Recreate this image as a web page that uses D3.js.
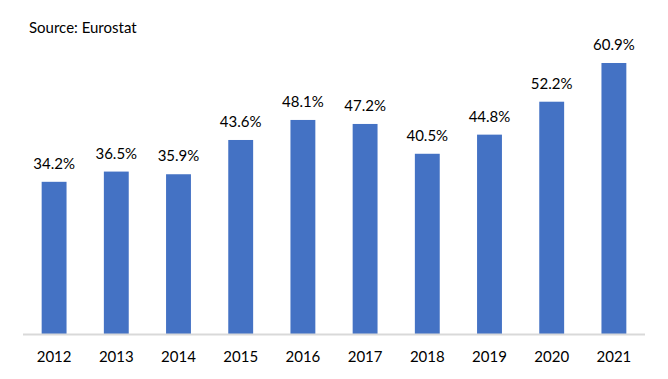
<!DOCTYPE html>
<html>
<head>
<meta charset="utf-8">
<script src="https://cdn.jsdelivr.net/npm/d3@7"></script>
<style>
  html, body { margin: 0; padding: 0; background: #fff; }
  svg { display: block; font-family: Lato, "Open Sans", sans-serif; }
</style>
</head>
<body>
<svg id="chart" width="668" height="379"></svg>
<script>
const years = ["2012","2013","2014","2015","2016","2017","2018","2019","2020","2021"];
const values = [34.2, 36.5, 35.9, 43.6, 48.1, 47.2, 40.5, 44.8, 52.2, 60.9];
const sourceText = "Source: Eurostat";

const svg = d3.select("#chart");
const W = 668, H = 379;
svg.append("rect").attr("width", W).attr("height", H).attr("fill", "#fff");

const x = d3.scaleBand().domain(years).range([23, 645]).paddingInner(0.6).paddingOuter(0.3);
const y = d3.scaleLinear().domain([0, 70]).range([334, 334 - 70 * 4.45]);

svg.append("text")
  .attr("x", 29).attr("y", 33)
  .attr("font-size", 15)
  .attr("fill", "#000")
  .text(sourceText);

svg.selectAll("rect.bar")
  .data(values)
  .join("rect")
  .attr("class", "bar")
  .attr("x", (d, i) => x(years[i]))
  .attr("width", x.bandwidth())
  .attr("y", d => y(d))
  .attr("height", d => y(0) - y(d))
  .attr("fill", "#4472C4");

// baseline axis
const axis = d3.axisBottom(x).tickSize(0).tickPadding(0);
const gAxis = svg.append("g").attr("transform", `translate(0,${y(0)})`).call(axis);
gAxis.select(".domain").attr("stroke", "#D9D9D9").attr("stroke-width", 2).attr("d", `M23,0.5H645`);
gAxis.selectAll(".tick text")
  .attr("dy", null)
  .attr("y", 28)
  .attr("font-size", 15)
  .attr("font-family", "Lato, 'Open Sans', sans-serif")
  .attr("fill", "#000");

svg.selectAll("text.val")
  .data(values)
  .join("text")
  .attr("class", "val")
  .attr("x", (d, i) => x(years[i]) + x.bandwidth() / 2)
  .attr("y", d => y(d) - 13)
  .attr("text-anchor", "middle")
  .attr("font-size", 15)
  .attr("fill", "#000")
  .text(d => d.toFixed(1) + "%");
</script>
</body>
</html>
